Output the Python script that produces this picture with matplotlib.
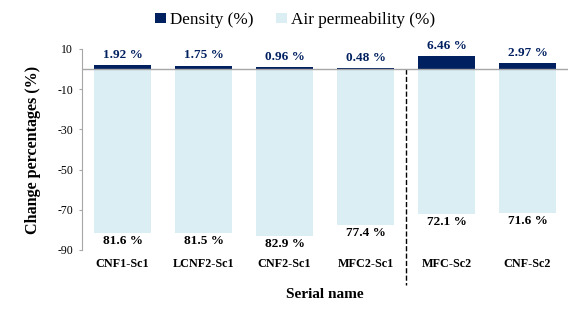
import matplotlib.pyplot as plt
import numpy as np

plt.rcParams['font.family'] = ['Liberation Serif', 'DejaVu Serif']
plt.rcParams['axes.unicode_minus'] = False

names = ['CNF1-Sc1', 'LCNF2-Sc1', 'CNF2-Sc1', 'MFC2-Sc1', 'MFC-Sc2', 'CNF-Sc2']
density = [1.92, 1.75, 0.96, 0.48, 6.46, 2.97]
air_perm = [-81.6, -81.5, -82.9, -77.4, -72.1, -71.6]

navy = '#002060'
light = '#DAEEF3'

fig = plt.figure(figsize=(5.87, 3.2), dpi=100)
ax = fig.add_axes([0.1397, 0.219, 0.828, 0.628])

x = np.arange(len(names))
w = 0.70
b1 = ax.bar(x, density, w, color=navy, label='Density (%)', zorder=3)
b2 = ax.bar(x, air_perm, w, color=light, label='Air permeability (%)', zorder=2)

for xi, v in zip(x, density):
    ax.annotate(f'{v:.2f} %', (xi, v), xytext=(0, 3), textcoords='offset points',
                ha='center', va='bottom', color=navy, fontsize=9.5, fontweight='bold')
for xi, v in zip(x, air_perm):
    ax.annotate(f'{abs(v):.1f} %', (xi, v), xytext=(0, -1.5), textcoords='offset points',
                ha='center', va='top', color='black', fontsize=9.5, fontweight='bold')

ax.axhline(0, color='#a6a6a6', lw=1, zorder=4)
ax.plot([3.5, 3.5], [0, -107.5], ls='--', color='black', lw=1, clip_on=False)

ax.set_xlim(-0.5, 5.5)
ax.set_ylim(-90, 10)
ax.set_yticks([10, -10, -30, -50, -70, -90])
ax.set_xticks(x)
ax.set_xticklabels(names, fontweight='bold', fontsize=8.7)
ax.tick_params(axis='x', length=0, pad=5.5)
ax.tick_params(axis='y', labelsize=8.5, length=2.2, color='#a6a6a6', pad=4.3)
for s in ['top', 'right', 'bottom']:
    ax.spines[s].set_visible(False)
ax.spines['left'].set_color('#a6a6a6')

ax.set_xlabel('Serial name', fontweight='bold', fontsize=11, labelpad=13)
ax.set_ylabel('Change percentages (%)', fontweight='bold', fontsize=11.6, labelpad=11.5)

fig.legend(handles=[b1, b2], loc='center', bbox_to_anchor=(0.503, 0.9375), ncol=2,
           frameon=False, fontsize=12.3, handlelength=0.6, handleheight=0.6,
           handletextpad=0.25, columnspacing=1.35)

fig.savefig('out.png', dpi=100)
